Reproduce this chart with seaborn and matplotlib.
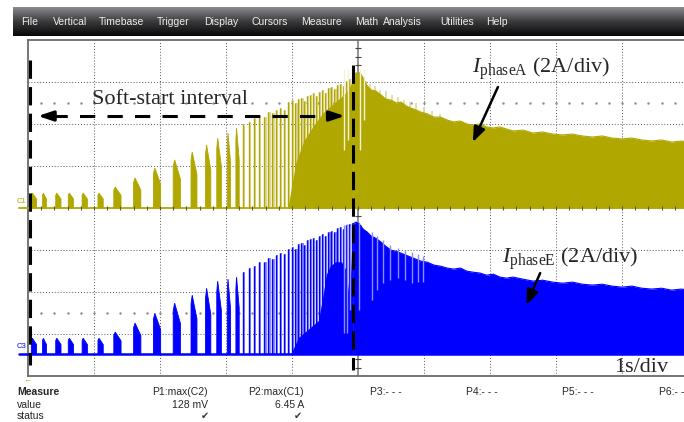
import numpy as np
import matplotlib
matplotlib.use("Agg")
import matplotlib.pyplot as plt
import seaborn as sns
from matplotlib.colors import LinearSegmentedColormap
from matplotlib.patches import Polygon

# ---- scope data: time in s (1 s/div), current in A (2 A/div) ----
# separate soft-start bursts
burst_t = [0.05, 0.22, 0.42, 0.61, 0.82, 1.06, 1.30, 1.60, 1.90, 2.20, 2.47, 2.69, 2.86, 3.02, 3.15]
burst_w = [0.08, 0.06, 0.08, 0.08, 0.08, 0.08, 0.11, 0.11, 0.11, 0.11, 0.09, 0.08, 0.07, 0.05, 0.05]
burst_a = [0.71, 0.71, 0.71, 0.71, 0.71, 0.71, 1.00, 1.43, 1.90, 2.29, 2.67, 3.00, 3.33, 3.57, 3.80]
burst_e = [0.76, 0.76, 0.76, 0.76, 0.76, 0.76, 1.05, 1.48, 1.95, 2.43, 2.81, 3.14, 3.48, 3.57, 3.67]

# dense spikes at the end of soft-start
spike_t = [3.26, 3.35, 3.42, 3.50, 3.58, 3.64, 3.70, 3.76, 3.82, 3.88, 3.94, 4.00, 4.05, 4.09, 4.14, 4.18,
           4.23, 4.27, 4.32, 4.36, 4.41, 4.45, 4.50, 4.55, 4.59, 4.64, 4.68, 4.73, 4.77, 4.82, 4.86, 4.91]
spike_a = [4.00, 4.10, 4.29, 4.38, 4.33, 4.57, 4.52, 4.67, 4.76, 4.67, 5.05, 5.14, 5.00, 5.19, 5.24, 5.10,
           5.33, 5.38, 5.48, 5.33, 5.52, 5.62, 5.48, 5.71, 5.76, 5.67, 5.86, 5.90, 5.81, 6.05, 6.14, 6.19]
spike_e = [3.90, 4.10, 4.19, 4.38, 4.38, 4.57, 4.52, 4.71, 4.81, 4.76, 5.00, 5.10, 5.00, 5.24, 5.29, 5.19,
           5.43, 5.48, 5.52, 5.43, 5.62, 5.71, 5.62, 5.81, 5.86, 5.81, 6.00, 6.05, 5.95, 6.14, 6.19, 6.24]

# solid core under the dense spikes
core_a_t = [3.94, 3.98, 4.06, 4.18, 4.32, 4.46, 4.60, 4.75, 4.85, 4.92]
core_a = [0.0, 0.8, 2.2, 3.2, 3.9, 4.5, 4.9, 5.3, 5.6, 6.1]
core_e_t = [3.98, 4.10, 4.25, 4.40, 4.47, 4.52, 4.58, 4.66, 4.75, 4.82, 4.87, 4.92]
core_e = [0.0, 0.8, 1.2, 1.6, 2.8, 3.8, 4.2, 4.4, 4.4, 4.0, 2.6, 6.2]

# steady run after soft-start (upper edge of the switching envelope)
post_t = [4.92, 4.97, 5.02, 5.08, 5.14, 5.20, 5.27, 5.35, 5.42, 5.50, 5.58, 5.65, 5.73, 5.80, 5.88, 5.95,
          6.05, 6.15, 6.25, 6.35, 6.45, 6.55, 6.65, 6.75, 6.85, 6.95, 7.05, 7.15, 7.25, 7.35, 7.50, 7.65,
          7.80, 7.95, 8.10, 8.25, 8.40, 8.55, 8.70, 8.85, 9.00, 9.15, 9.30, 9.45, 9.60, 9.75, 9.90, 10.0]
post_a = [6.14, 6.43, 6.45, 6.19, 5.81, 5.62, 5.57, 5.38, 5.19, 5.14, 5.00, 5.05, 4.86, 4.76, 4.67, 4.57,
          4.48, 4.33, 4.33, 4.19, 4.10, 4.14, 4.00, 3.95, 4.00, 3.86, 3.81, 3.86, 3.76, 3.67, 3.71, 3.57,
          3.62, 3.52, 3.48, 3.52, 3.43, 3.38, 3.43, 3.33, 3.29, 3.33, 3.24, 3.19, 3.24, 3.14, 3.19, 3.14]
post_e = [6.19, 6.29, 6.19, 5.95, 5.81, 5.62, 5.52, 5.33, 5.14, 4.95, 4.90, 4.81, 4.71, 4.62, 4.52, 4.43,
          4.38, 4.24, 4.19, 4.10, 4.05, 4.10, 3.95, 3.90, 3.86, 3.76, 3.81, 3.67, 3.62, 3.67, 3.57, 3.48,
          3.52, 3.43, 3.38, 3.43, 3.33, 3.29, 3.33, 3.24, 3.19, 3.24, 3.14, 3.10, 3.14, 3.05, 3.10, 3.05]

# faint spikes over phase A envelope, white gaps in phase A, pale streaks in phase E
c1_hi_t = [5.06, 5.12, 5.18, 5.26, 5.33, 5.42, 5.52, 5.61, 5.70, 5.79, 5.88, 6.00, 6.12, 6.24]
c1_hi_a = [6.30, 6.05, 5.90, 5.80, 5.62, 5.55, 5.38, 5.30, 5.15, 5.05, 4.98, 4.80, 4.60, 4.48]
c1_gap_t = [4.79, 4.85, 5.03, 5.09]
c1_gap_a = [2.76, 3.24, 2.76, 4.19]
c3_str_t = [4.79, 4.84, 4.88, 5.02, 5.21, 5.29, 5.38, 5.48, 5.61, 5.71, 5.82, 5.91, 5.98]
c3_str_lo = [1.0, 1.0, 2.1, 2.1, 2.57, 3.05, 3.38, 3.52, 3.62, 3.52, 3.38, 3.43, 3.43]
c3_str_hi = [6.14, 6.19, 6.10, 6.29, 5.81, 5.62, 5.43, 5.19, 5.05, 4.95, 4.86, 4.76, 4.67]

menu_items = ["File", "Vertical", "Timebase", "Trigger", "Display", "Cursors",
              "Measure", "Math", "Analysis", "Utilities", "Help"]
menu_x = [21, 53, 99, 157, 204, 251, 301, 355, 383, 440, 486]

OLIVE = "#b0a800"
OLIVE_LT = "#ddd89c"
BLUE = "#0000ff"
BLUE_LT = "#8c8cff"
A_DIV = 2.0
OFF_A = 0.0
OFF_E = -3.48

sns.set_theme(style="white")
plt.rcParams["font.family"] = ["Liberation Sans", "DejaVu Sans"]
plt.rcParams["mathtext.fontset"] = "custom"
plt.rcParams["mathtext.rm"] = "Liberation Serif"
plt.rcParams["mathtext.it"] = "Liberation Serif:italic"


def lvl(amps, off):
    return off + np.asarray(amps, dtype=float) / A_DIV


def fx(x):
    return x / 684


def fy(y):
    return 1 - y / 422


fig = plt.figure(figsize=(6.84, 4.22), dpi=100, facecolor="white")
ax = fig.add_axes([28 / 684, 46 / 422, 660 / 684, 336 / 422])

# graticule
for gx in [1, 2, 3, 4, 6, 7, 8, 9]:
    ax.axvline(gx, color="#555555", lw=0.7, ls=(0, (1, 2)), zorder=0.5)
for gy in [-3, -2, -1, 1, 2, 3]:
    ax.axhline(gy, color="#555555", lw=0.7, ls=(0, (1, 2)), zorder=0.5)
for gy in [2.5, -2.5]:
    ax.plot(np.arange(0.2, 10, 0.2), np.full(49, gy), ls="none", marker="s", ms=0.7,
            color="#8a8a8a", zorder=0.5)
ax.axvline(5, color="#8a8a8a", lw=1.3, zorder=1)
ax.plot(np.full(39, 5.0), np.arange(-3.8, 3.85, 0.2), ls="none", marker="_", ms=4,
        mew=0.8, color="#444444", zorder=1)

# soft-start bursts
for t0, w, a, e in zip(burst_t, burst_w, burst_a, burst_e):
    for amp, off, col in ((a, OFF_A, OLIVE), (e, OFF_E, BLUE)):
        h = amp / A_DIV
        verts = [(t0, off), (t0, off + 0.85 * h), (t0 + 0.2 * w, off + h),
                 (t0 + w, off + 0.6 * h), (t0 + w, off)]
        ax.add_patch(Polygon(verts, closed=True, fc=col, ec=col, lw=0.6, zorder=3))

# dense spikes
for amps, off, col, lt in ((spike_a, OFF_A, OLIVE, OLIVE_LT), (spike_e, OFF_E, BLUE, BLUE_LT)):
    ax.bar(spike_t, np.asarray(amps) / A_DIV, width=0.035, bottom=off, align="edge",
           color=lt, lw=0, zorder=2)
    ax.vlines(spike_t, off, lvl(amps, off), color=col, lw=1.0, zorder=3)

ax.vlines(c1_hi_t, OFF_A, lvl(c1_hi_a, OFF_A), color=OLIVE_LT, lw=1.2, zorder=2)

ax.fill_between(core_a_t, OFF_A, lvl(core_a, OFF_A), color=OLIVE, lw=0, zorder=3)
ax.fill_between(core_e_t, OFF_E, lvl(core_e, OFF_E), color=BLUE, lw=0, zorder=3)

# run after soft-start
ax.fill_between(post_t, OFF_A, lvl(post_a, OFF_A), color=OLIVE, lw=0, zorder=3)
ax.fill_between(post_t, OFF_E, lvl(post_e, OFF_E), color=BLUE, lw=0, zorder=3)
sns.lineplot(x=post_t, y=lvl(post_a, OFF_A), color=OLIVE, lw=0.8, ax=ax, zorder=3)
sns.lineplot(x=post_t, y=lvl(post_e, OFF_E), color=BLUE, lw=0.8, ax=ax, zorder=3)

ax.vlines(c1_gap_t, lvl(c1_gap_a, OFF_A), lvl([6.6] * len(c1_gap_t), OFF_A),
          color="#f4f2dc", lw=1.0, zorder=3.5)
ax.vlines(c3_str_t, lvl(c3_str_lo, OFF_E), lvl(c3_str_hi, OFF_E),
          color=BLUE_LT, lw=1.0, zorder=3.5)

# trace baselines (channel markers start left of the grid)
ax.plot([-0.14, 10], [OFF_A, OFF_A], color=OLIVE, lw=1.3, clip_on=False, zorder=3.2)
ax.plot([-0.14, 10], [OFF_E, OFF_E], color=BLUE, lw=1.8, clip_on=False, zorder=3.2)
ax.plot(np.arange(0.2, 10, 0.2), np.zeros(49), ls="none", marker="|", ms=3.5,
        mew=0.8, color="#555555", zorder=3.3)

# annotations
dash = (0, (6, 2.7))
ax.plot([0.03, 0.03], [3.52, -3.74], color="black", lw=2.2, ls=dash, zorder=6)
ax.plot([4.92, 4.92], [3.40, -3.86], color="black", lw=2.2, ls=dash, zorder=6)
ax.plot([0.36, 4.59], [2.19, 2.19], color="black", lw=2.2, ls=(0, (5, 4)), zorder=6)
head = dict(arrowstyle="-|>,head_length=0.9,head_width=0.3", color="black", lw=2.2,
            shrinkA=0, shrinkB=0, mutation_scale=10)
ax.annotate("", xy=(0.15, 2.19), xytext=(0.36, 2.19), arrowprops=head, zorder=6)
ax.annotate("", xy=(4.80, 2.19), xytext=(4.59, 2.19), arrowprops=head, zorder=6)
ptr = dict(arrowstyle="-|>,head_length=0.9,head_width=0.35", color="black", lw=1.8,
           shrinkA=0, shrinkB=0, mutation_scale=10)
ax.annotate("", xy=(6.74, 1.57), xytext=(7.12, 2.88), arrowprops=ptr, zorder=6)
ax.annotate("", xy=(7.55, -2.31), xytext=(7.76, -1.55), arrowprops=ptr, zorder=6)

serif = dict(family="Liberation Serif", size=16, va="baseline", zorder=7)
ax.text(2.15, 2.47, "Soft-start interval", ha="center", **serif)
ax.text(6.73, 3.21, r"$I_{\mathrm{phaseA}}$ (2A/div)", ha="left", **serif)
ax.text(7.18, -1.31, r"$I_{\mathrm{phaseE}}$ (2A/div)", ha="left", **serif)
ax.text(8.88, -3.90, "1s/div", ha="left", **serif)

ax.set_xlim(0, 10)
ax.set_ylim(-4, 4)
ax.set_xticks([])
ax.set_yticks([])
ax.set_xlabel("")
ax.set_ylabel("")
for side in ["left", "top", "bottom"]:
    ax.spines[side].set_color("#6a6a6a")
    ax.spines[side].set_linewidth(1.3)
ax.spines["right"].set_visible(False)

# menu bar
bar = fig.add_axes([13 / 684, fy(36), 671 / 684, 29 / 422])
bar.imshow(np.linspace(0, 1, 64).reshape(-1, 1), aspect="auto", extent=[0, 1, 0, 1],
           cmap=LinearSegmentedColormap.from_list("bar", ["#8a8a90", "#3a3a3c", "#080808"]))
bar.axis("off")
for name, x in zip(menu_items, menu_x):
    fig.text(fx(x), fy(22), name, color="#eeeeee", size=7.5, ha="left", va="center")

# channel labels
fig.text(fx(17), fy(202), "C1", color=OLIVE, size=5.5, va="center")
fig.text(fx(17), fy(347), "C3", color=BLUE, size=5.5, va="center")

# measurement panel
fig.text(fx(23), fy(381), "\u2190", color="#c8b400", size=6, va="center")
fig.text(fx(17), fy(392), "Measure", size=7.5, weight="bold", va="center")
fig.text(fx(17), fy(405), "value", size=7.5, va="center")
fig.text(fx(17), fy(416), "status", size=7.5, va="center")
fig.text(fx(208), fy(392), "P1:max(C2)", size=7.5, ha="right", va="center")
fig.text(fx(208), fy(405), "128 mV", size=7.5, ha="right", va="center")
fig.text(fx(205), fy(416), "\u2714", size=7, ha="center", va="center", color="#3a3a3a")
fig.text(fx(304), fy(392), "P2:max(C1)", size=7.5, ha="right", va="center")
fig.text(fx(304), fy(405), "6.45 A", size=7.5, ha="right", va="center")
fig.text(fx(298), fy(416), "\u2714", size=7, ha="center", va="center", color="#3a3a3a")
for label, x in [("P3:- - -", 370), ("P4:- - -", 466), ("P5:- - -", 562), ("P6:- - -", 659)]:
    fig.text(fx(x), fy(392), label, size=7.5, ha="left", va="center")

fig.savefig("out.png", dpi=100)
